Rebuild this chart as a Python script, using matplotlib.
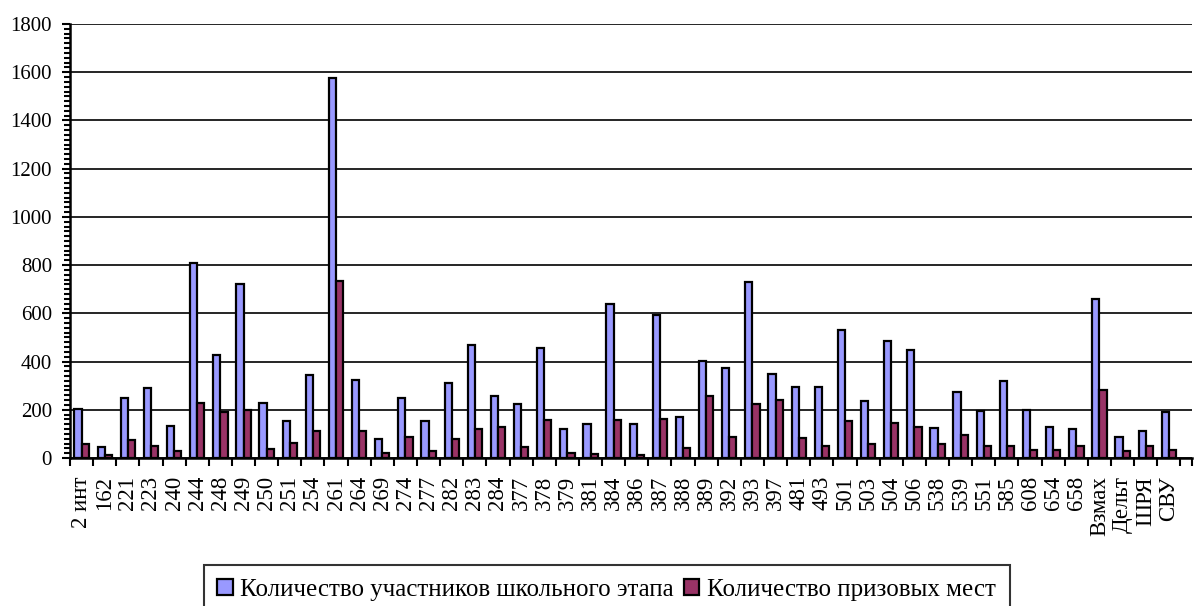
import numpy as np
import matplotlib.pyplot as plt
from matplotlib.ticker import MultipleLocator

plt.rcParams['font.family'] = ['Liberation Serif', 'DejaVu Serif']

schools = ['2 инт', '162', '221', '223', '240', '244', '248', '249', '250', '251',
           '254', '261', '264', '269', '274', '277', '282', '283', '284', '377',
           '378', '379', '381', '384', '386', '387', '388', '389', '392', '393',
           '397', '481', '493', '501', '503', '504', '506', '538', '539', '551',
           '585', '608', '654', '658', 'Взмах', 'Дельт', 'ШРЯ', 'СВУ']

participants = [204, 44, 249, 290, 134, 809, 428, 721, 227, 152,
                344, 1576, 324, 77, 247, 155, 313, 469, 259, 222,
                456, 120, 140, 638, 140, 592, 171, 402, 372, 730,
                348, 296, 293, 531, 237, 486, 449, 123, 274, 195,
                318, 201, 129, 119, 659, 88, 114, 192]

prizes = [57, 11, 73, 49, 30, 229, 190, 201, 38, 63,
          112, 736, 110, 21, 89, 30, 77, 120, 129, 47,
          158, 22, 18, 158, 14, 163, 41, 256, 89, 223,
          242, 81, 51, 153, 58, 144, 129, 56, 97, 51,
          48, 32, 32, 51, 284, 30, 51, 34]

legend_labels = ['Количество участников школьного этапа', 'Количество призовых мест']

fig = plt.figure(figsize=(11.94, 6.06), dpi=100)
ax = fig.add_axes([70 / 1194, 1 - 458 / 606, 1122 / 1194, 434 / 606])

n = len(schools)
x = np.arange(n)
w = 0.31
ax.bar(x - w / 2, participants, w, color='#9999FF', edgecolor='black', linewidth=1.6,
       label=legend_labels[0], zorder=3)
ax.bar(x + w / 2, prizes, w, color='#993366', edgecolor='black', linewidth=1.6,
       label=legend_labels[1], zorder=3)

ax.set_xlim(-0.5, n)
ax.set_ylim(0, 1800)
ax.yaxis.set_major_locator(MultipleLocator(200))
ax.yaxis.set_minor_locator(MultipleLocator(20))
ax.grid(axis='y', color='black', linewidth=1.2, zorder=0)

ax.set_xticks(x)
ax.set_xticklabels(schools, rotation=90, fontsize=16.5, va='top', ha='center')
ax.set_xticks(np.arange(-0.5, n + 0.01, 0.5), minor=True)
ax.tick_params(axis='x', which='major', length=0, pad=13)
ax.tick_params(axis='x', which='minor', length=6, width=1.5, direction='out')
ax.tick_params(axis='y', which='major', length=6, width=1.5, labelsize=15, pad=7)
ax.tick_params(axis='y', which='minor', length=4, width=1.5)

for s in ['top', 'right']:
    ax.spines[s].set_visible(False)
for s in ['left', 'bottom']:
    ax.spines[s].set_linewidth(1.8)

leg = fig.legend(loc='upper center', bbox_to_anchor=(0.508, 1 - 565 / 606), ncol=2,
                 fontsize=18, frameon=True, fancybox=False, edgecolor='black',
                 handlelength=0.62, handleheight=0.62, handletextpad=0.3,
                 columnspacing=0.4, borderpad=0.55, borderaxespad=0)
leg.get_frame().set_linewidth(1.5)

fig.savefig('out.png', dpi=100)
